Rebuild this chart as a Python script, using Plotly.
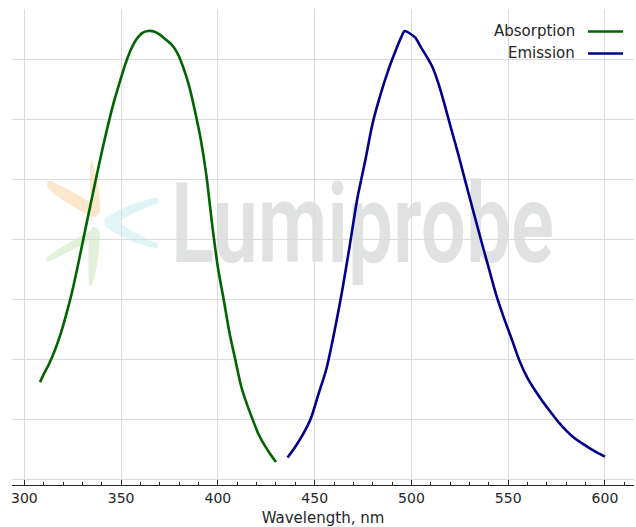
import base64
import plotly.graph_objects as go

# ---------------- data ----------------
series_names = ["Absorption", "Emission"]

abs_wavelength = [308.1, 310, 313, 316, 319, 322, 325, 328, 331, 334, 337, 340, 343, 346, 349,
                  352, 355, 358, 361, 364, 367, 370, 373, 376, 379, 382, 385, 388, 391, 394,
                  397, 400, 403, 406, 409, 412, 415, 418, 421, 424, 427, 430]
abs_intensity = [0.216, 0.234, 0.259, 0.290, 0.328, 0.373, 0.424, 0.484, 0.547, 0.609, 0.670,
                 0.730, 0.786, 0.838, 0.882, 0.924, 0.958, 0.982, 0.996, 1.000, 0.999, 0.992,
                 0.981, 0.970, 0.951, 0.920, 0.879, 0.824, 0.761, 0.679, 0.569, 0.472, 0.400,
                 0.326, 0.266, 0.207, 0.167, 0.132, 0.100, 0.076, 0.056, 0.038]

em_wavelength = [436, 440, 444, 448, 452, 456, 460, 464, 468, 472, 476, 480, 484, 488, 492,
                 494.5, 496.5, 499, 502, 505, 508, 511, 514, 517, 520, 524, 528, 532, 536,
                 540, 544, 548, 552, 556, 560, 564, 568, 572, 576, 580, 584, 588, 592, 596, 600]
em_intensity = [0.048, 0.072, 0.100, 0.135, 0.190, 0.245, 0.325, 0.415, 0.518, 0.625, 0.708,
                0.795, 0.858, 0.912, 0.958, 0.984, 1.000, 0.995, 0.985, 0.963, 0.942, 0.918,
                0.882, 0.838, 0.790, 0.728, 0.662, 0.597, 0.533, 0.470, 0.408, 0.357, 0.310,
                0.262, 0.225, 0.197, 0.172, 0.149, 0.127, 0.108, 0.092, 0.080, 0.069, 0.059,
                0.050]

x_tick_step = 50
x_minor_step = 10
x_title = "Wavelength, nm"
watermark_text = "Lumiprobe"

# ---------------- layout geometry ----------------
W, H = 636, 527
ML, MR, MT, MB = 12, 2, 9, 42
PW, PH = W - ML - MR, H - MT - MB

colors = ["#006400", "#00008b"]
FONT = "DejaVu Sans"
TXT = "#262626"


def px_to_paper(px, py):
    return (px - ML) / PW, (H - MB - py) / PH


fig = go.Figure()
for name, xs, ys, c in zip(series_names, [abs_wavelength, em_wavelength],
                           [abs_intensity, em_intensity], colors):
    fig.add_trace(go.Scatter(x=xs, y=ys, mode="lines", name=name,
                             line=dict(color=c, width=2.6, shape="spline", smoothing=0.8),
                             showlegend=False, hoverinfo="x+y+name"))

# ---------------- watermark (SVG image below the grid) ----------------
vx, vy, vw, vh = 40, 150, 520, 145
svg = f'''<svg xmlns="http://www.w3.org/2000/svg" width="{vw}" height="{vh}" viewBox="{vx} {vy} {vw} {vh}">
<path d="M50,181 C62,186 90,200 100,211 C99,216 95,218 92,217 C78,210 56,197 48,188 C46,185 47,181 50,181 Z" fill="rgb(253,231,204)"/>
<path d="M91,159 C96,170 101,195 100,212 C98,216 94,216 93,213 C91,200 88,175 91,159 Z" fill="rgb(253,231,204)"/>
<path d="M106,218 C120,208 140,200 157,198 C160,199 159,203 156,204 C140,210 126,216 119,222 C126,228 140,236 156,243 C159,245 159,249 156,248 C140,246 120,237 106,227 C104,224 104,220 106,218 Z" fill="rgb(224,244,246)"/>
<path d="M98,229 C100,233 98,236 94,238 C80,246 60,256 50,261 C46,262 46,258 48,256 C60,248 80,236 92,230 C94,229 96,228 98,229 Z" fill="rgb(227,240,218)"/>
<path d="M94,227 C99,228 100,232 100,236 C99,255 96,275 92,285 C90,287 89,284 89,282 C88,265 88,245 90,232 C90,229 92,227 94,227 Z" fill="rgb(227,240,218)"/>
<text x="171" y="262" font-family="Roboto, 'Liberation Sans Narrow', sans-serif" font-weight="600" font-size="111" fill="rgb(224,225,225)" textLength="383" lengthAdjust="spacingAndGlyphs">{watermark_text}</text>
</svg>'''
uri = "data:image/svg+xml;base64," + base64.b64encode(svg.encode()).decode()
ix, iy = px_to_paper(vx, vy)
fig.add_layout_image(dict(source=uri, xref="paper", yref="paper", x=ix, y=iy,
                          sizex=vw / PW, sizey=vh / PH, xanchor="left", yanchor="top",
                          sizing="stretch", layer="below"))

# ---------------- custom legend (text left of the line sample) ----------------
for i, (name, c) in enumerate(zip(series_names, colors)):
    ty = 31 + 22 * i
    tx, tyy = px_to_paper(577, ty)
    fig.add_annotation(text=name, xref="paper", yref="paper", x=tx, y=tyy,
                       xanchor="right", yanchor="middle", showarrow=False,
                       font=dict(family=FONT, size=15, color=TXT))
    x0, y0 = px_to_paper(588, ty + 0.5)
    x1, _ = px_to_paper(623, ty + 0.5)
    fig.add_shape(type="line", xref="paper", yref="paper", x0=x0, x1=x1, y0=y0, y1=y0,
                  line=dict(color=c, width=2.6))

y0_px, peak_px = 479, 31
unit = y0_px - peak_px
fig.update_layout(
    width=W, height=H, margin=dict(l=ML, r=MR, t=MT, b=MB),
    paper_bgcolor="white", plot_bgcolor="rgba(0,0,0,0)",
    font=dict(family=FONT, size=14, color=TXT),
    xaxis=dict(range=[293.6, 615.0], tick0=300, dtick=x_tick_step,
               showgrid=True, gridcolor="#dcdcdc", gridwidth=1,
               showline=True, linecolor=TXT, linewidth=1.2, zeroline=False,
               ticks="inside", ticklen=5, tickwidth=1, tickcolor=TXT,
               tickfont=dict(family=FONT, size=14, color=TXT),
               minor=dict(dtick=x_minor_step, ticks="inside", ticklen=3, tickwidth=1,
                          tickcolor=TXT, showgrid=False),
               title=dict(text=x_title, font=dict(family=FONT, size=15, color=TXT),
                          standoff=8)),
    yaxis=dict(range=[-(485 - y0_px) / unit, (y0_px - MT) / unit], tick0=0, dtick=60 / unit,
               showticklabels=False, showgrid=True, gridcolor="#dcdcdc", gridwidth=1,
               zeroline=False, showline=False, ticks=""),
)

fig.write_html("out.html", config={"displayModeBar": False},
               post_script="document.body.style.margin='0';document.body.style.overflow='hidden';")
